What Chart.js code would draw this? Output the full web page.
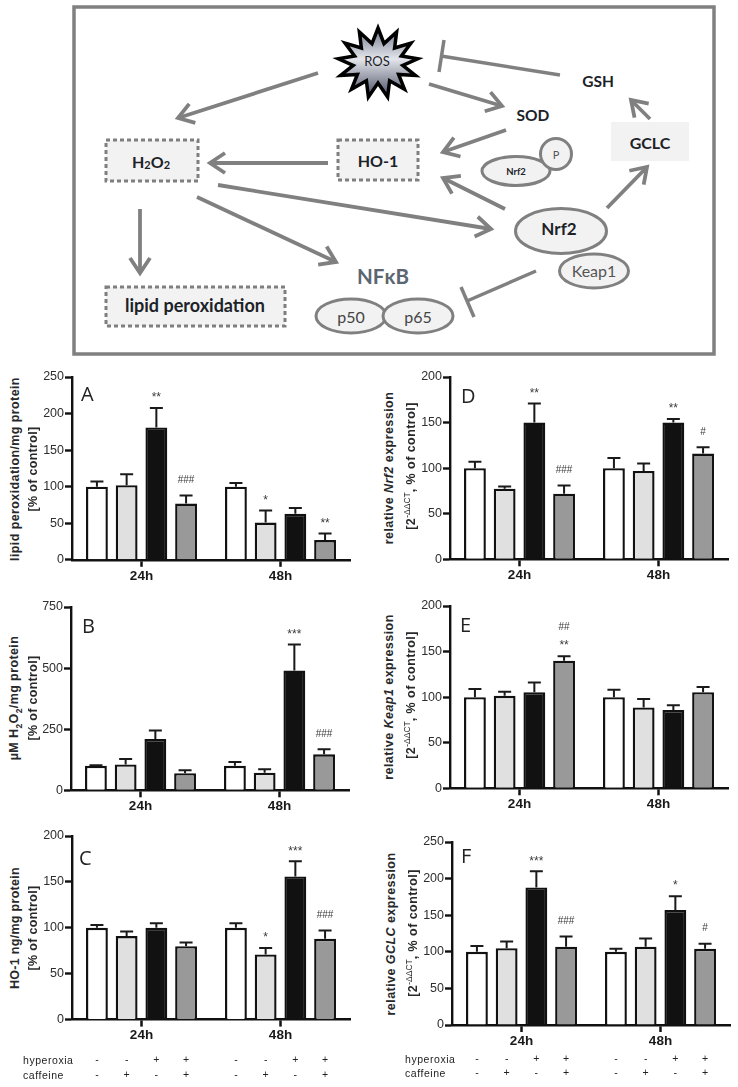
<!DOCTYPE html>
<html>
<head>
<meta charset="utf-8">
<style>
  html, body { margin: 0; padding: 0; background: #fff; }
  #page { position: relative; width: 738px; height: 1087px; overflow: hidden; font-family: "Liberation Sans", Arial, sans-serif; }
  canvas { position: absolute; }
  #scheme { position: absolute; left: 0; top: 0; }
  #scheme text { font-family: Lato, sans-serif; text-anchor: middle; dominant-baseline: central; font-weight: 700; fill: #1c2228; }
  .ytitle { position: absolute; transform: translate(-50%, -50%) rotate(-90deg); white-space: nowrap; font-weight: 700; color: #26282a; font-size: 12.5px; }
  .ytitle sup { font-size: 8.5px; font-weight: 400; line-height: 0; letter-spacing: 0; }
  .ytitle sub { font-size: 8.5px; line-height: 0; }
  .letter { position: absolute; font-family: "Open Sans", sans-serif; font-size: 20px; line-height: 20px; color: #222; }
  .treat { position: absolute; font-size: 10.5px; letter-spacing: .55px; line-height: 12px; color: #222; }
</style>
<script src="https://cdn.jsdelivr.net/npm/chart.js@4"></script>
</head>
<body>
<div id="page">
<svg id="scheme" width="738" height="360" xmlns="http://www.w3.org/2000/svg">
  <defs>
    <marker id="head" markerUnits="userSpaceOnUse" markerWidth="30" markerHeight="30" refX="15" refY="15" orient="auto" overflow="visible">
      <path d="M0 5 L15 15 L0 25" fill="none" stroke="#808080" stroke-width="3.8"/>
    </marker>
    <linearGradient id="rosFill" x1="0" y1="0" x2="0" y2="1">
      <stop offset="0" stop-color="#70778a"/>
      <stop offset=".45" stop-color="#e4e6ec"/>
      <stop offset="1" stop-color="#4a4f63"/>
    </linearGradient>
  </defs>
  <rect x="74" y="7" width="640" height="347" fill="#fff" stroke="#808080" stroke-width="3.5"/>

  <g fill="#f2f2f2" stroke="#7f7f7f" stroke-width="3" stroke-dasharray="4 3">
    <rect x="106" y="140" width="92" height="41"/>
    <rect x="338" y="140" width="80" height="40"/>
    <rect x="106" y="287" width="179" height="39"/>
  </g>
  <rect x="611" y="122" width="78" height="39" fill="#f2f2f2"/>

  <g fill="#f2f2f2" stroke="#808080" stroke-width="3">
    <ellipse cx="516" cy="171" rx="34" ry="14.5"/>
    <circle cx="556" cy="154" r="15.5"/>
    <ellipse cx="561" cy="231" rx="45.5" ry="22.5"/>
    <ellipse cx="594" cy="271" rx="34.5" ry="17"/>
    <ellipse cx="351" cy="316" rx="35" ry="17"/>
    <ellipse cx="418" cy="316" rx="35" ry="17"/>
  </g>

  <polygon id="ros" fill="url(#rosFill)" stroke="#000" stroke-width="3.5" stroke-linejoin="miter"/>

  <g stroke="#808080" stroke-width="3.8" fill="none">
    <line x1="318" y1="73" x2="178" y2="118" marker-end="url(#head)"/>
    <line x1="328" y1="163" x2="210" y2="163" marker-end="url(#head)"/>
    <line x1="218" y1="185" x2="491" y2="229" marker-end="url(#head)"/>
    <line x1="197" y1="197" x2="336" y2="262" marker-end="url(#head)"/>
    <line x1="140" y1="209" x2="140" y2="273" marker-end="url(#head)"/>
    <line x1="429" y1="84" x2="502" y2="106" marker-end="url(#head)"/>
    <line x1="506" y1="130" x2="443" y2="152" marker-end="url(#head)"/>
    <line x1="505" y1="209" x2="443" y2="178" marker-end="url(#head)"/>
    <line x1="607" y1="208" x2="647" y2="167" marker-end="url(#head)"/>
    <line x1="650" y1="119" x2="631" y2="100" marker-end="url(#head)"/>
  </g>
  <g stroke="#808080" stroke-width="3.5" fill="none">
    <line x1="560" y1="75" x2="441" y2="56"/>
    <line x1="444" y1="40" x2="439" y2="72"/>
    <line x1="536" y1="271" x2="467" y2="301"/>
    <line x1="461" y1="287" x2="474" y2="317"/>
  </g>

  <text x="377" y="61" font-size="13" style="font-weight:400">ROS</text>
  <text x="151" y="161" font-size="16">H<tspan font-size="11" dy="3">2</tspan><tspan dy="-3">O</tspan><tspan font-size="11" dy="3">2</tspan></text>
  <text x="378" y="160" font-size="16">HO-1</text>
  <text x="195" y="305" font-size="18">lipid peroxidation</text>
  <text x="383" y="276" font-size="20.5" style="fill:#5b6670">NFκB</text>
  <text x="351" y="316" font-size="16" style="font-weight:400;fill:#444">p50</text>
  <text x="418" y="316" font-size="16" style="font-weight:400;fill:#444">p65</text>
  <text x="533" y="115" font-size="15.5">SOD</text>
  <text x="598" y="81" font-size="15.5">GSH</text>
  <text x="650" y="142" font-size="16">GCLC</text>
  <text x="516" y="171" font-size="9.5">Nrf2</text>
  <text x="556" y="154" font-size="11" style="font-weight:400;fill:#555">P</text>
  <text x="559" y="228" font-size="17">Nrf2</text>
  <text x="594" y="270" font-size="16" style="font-weight:400;fill:#555">Keap1</text>
</svg>
</div>

<script>
const categories = ['24h', '48h'];
const groups = ['control', 'caffeine', 'hyperoxia', 'hyperoxia + caffeine'];
const hyperoxiaSigns = ['-', '-', '+', '+'];
const caffeineSigns = ['-', '+', '-', '+'];
const fills = ['#ffffff', '#e0e0e0', '#111111', '#999999'];

// one row per group, [24h, 48h]
const aMeans = [[100, 100], [102, 51], [181, 63], [77, 27]];
const aTops = [[107, 105], [117, 67.5], [207.5, 71], [88, 36]];
const aMarks = [['', ''], ['', '*'], ['**', ''], ['###', '**']];

const bMeans = [[100, 100], [106, 72], [210, 490], [70, 147]];
const bTops = [[103, 116], [128, 86], [245, 597], [82, 168]];
const bMarks = [['', ''], ['', ''], ['', '***'], ['', '###']];

const cMeans = [[100, 100], [91, 71], [100, 156], [80, 88]];
const cTops = [[103, 105], [96, 78], [105, 172.5], [84, 97]];
const cMarks = [['', ''], ['', '*'], ['', '***'], ['', '###']];

const dMeans = [[100, 100], [77.5, 97], [150, 150], [72, 116]];
const dTops = [[107, 111], [80, 105], [171, 154], [81, 123]];
const dMarks = [['', ''], ['', ''], ['**', '**'], ['###', '#']];

const eMeans = [[100, 100], [101.5, 88.7], [105.5, 85.8], [140, 105.5]];
const eTops = [[109, 108], [106, 98], [116, 91], [145, 111]];
const eMarks = [['', ''], ['', ''], ['', ''], ['##|**', '']];

const fMeans = [[100, 100], [105, 107], [188, 157], [107, 104]];
const fTops = [[108, 104], [114, 118], [210, 176], [121, 111]];
const fMarks = [['', ''], ['', ''], ['***', '*'], ['###', '#']];

const panels = [
  { name: 'A', means: aMeans, tops: aTops, marks: aMarks, max: 250, step: 50, left: 72, right: 350, top: 376.7, base: 559.5,
    letter: [81, 384], titles: [['lipid peroxidation/mg protein', 15, 469, .4], ['[% of control]', 33, 469, .3]] },
  { name: 'B', means: bMeans, tops: bTops, marks: bMarks, max: 750, step: 250, left: 71, right: 349, top: 606.7, base: 790,
    letter: [82, 616], titles: [['µM H<sub>2</sub>O<sub>2</sub>/mg protein', 14, 698, .4], ['[% of control]', 33, 698, .3]] },
  { name: 'C', means: cMeans, tops: cTops, marks: cMarks, max: 200, step: 50, left: 72, right: 350, top: 835.7, base: 1019.3,
    letter: [79, 848], titles: [['HO-1 ng/mg protein', 15, 928, .3], ['[% of control]', 33, 928, .3]],
    signRows: [40.7, 55.7], treat: [23, 1054, 1069] },
  { name: 'D', means: dMeans, tops: dTops, marks: dMarks, max: 200, step: 50, left: 450, right: 728, top: 376.7, base: 559,
    letter: [461, 386], titles: [['relative <i>Nrf2</i> expression', 389, 468, .45], ['[2<sup>-ΔΔCT</sup>, % of control]', 411, 466, .45]] },
  { name: 'E', means: eMeans, tops: eTops, marks: eMarks, max: 200, step: 50, left: 450, right: 728, top: 605.7, base: 788,
    letter: [460, 615], titles: [['relative <i>Keap1</i> expression', 389, 697, .45], ['[2<sup>-ΔΔCT</sup>, % of control]', 411, 695, .45]] },
  { name: 'F', means: fMeans, tops: fTops, marks: fMarks, max: 250, step: 50, left: 452, right: 730, top: 842, base: 1025,
    letter: [461, 846], titles: [['relative <i>GCLC</i> expression', 391, 934, .45], ['[2<sup>-ΔΔCT</sup>, % of control]', 413, 933, .45]],
    signRows: [33.7, 48], treat: [405, 1053, 1067] }
];

// ROS burst outline, just a decoration of the scheme
const burst = [];
for (let i = 0; i < 26; i++) {
  const a = i / 26 * Math.PI * 2 - Math.PI / 2;
  const big = i % 2 === 0;
  burst.push((378 + Math.cos(a) * (big ? 40 : 25)).toFixed(1) + ',' + (63 + Math.sin(a) * (big ? 35 : 20)).toFixed(1));
}
document.getElementById('ros').setAttribute('points', burst.join(' '));

const INK = '#111111';
const YAXIS_W = 42, XAXIS_H = 32, PAD_TOP = 12, PAD_RIGHT = 6;

const errorBars = {
  id: 'errorBars',
  afterDatasetsDraw(chart) {
    const ctx = chart.ctx, y = chart.scales.y;
    const opt = chart.options.plugins.errorBars;
    ctx.save();
    chart.data.datasets.forEach((ds, i) => {
      chart.getDatasetMeta(i).data.forEach((bar, j) => {
        const top = y.getPixelForValue(ds.errTop[j]);
        ctx.strokeStyle = '#1a1a1a';
        ctx.lineWidth = 2;
        ctx.beginPath();
        ctx.moveTo(bar.x, bar.y);
        ctx.lineTo(bar.x, top);
        ctx.moveTo(bar.x - 6.5, top);
        ctx.lineTo(bar.x + 6.5, top);
        ctx.stroke();

        // significance marks sit just above the whisker
        const lines = ds.marks[j] ? ds.marks[j].split('|').reverse() : [];
        ctx.fillStyle = '#3a3a3a';
        ctx.textAlign = 'center';
        ctx.textBaseline = 'middle';
        lines.forEach((txt, k) => {
          const star = txt[0] === '*';
          ctx.font = star ? '12px "Liberation Sans"' : '10px "Liberation Sans"';
          ctx.fillText(txt, bar.x, top - (star ? 10 : 15) - k * 14);
        });

        // treatment table under the lower panels
        if (opt.signRows) {
          ctx.fillStyle = '#222';
          ctx.font = '10.5px "Liberation Sans"';
          const base = y.getPixelForValue(0);
          ctx.fillText(hyperoxiaSigns[i], bar.x, base + opt.signRows[0]);
          ctx.fillText(caffeineSigns[i], bar.x, base + opt.signRows[1]);
        }
      });
    });
    ctx.restore();
  }
};

const page = document.getElementById('page');

panels.forEach(p => {
  const canvas = document.createElement('canvas');
  const extra = p.signRows ? 1087 - p.base - XAXIS_H : 0;
  const wrap = document.createElement('div');
  wrap.style.cssText = 'position:absolute;left:' + (p.left - YAXIS_W) + 'px;top:' + (p.top - PAD_TOP) + 'px;width:' +
    (p.right - p.left + YAXIS_W + PAD_RIGHT) + 'px;height:' + (p.base - p.top + PAD_TOP + XAXIS_H + extra) + 'px';
  wrap.appendChild(canvas);
  page.appendChild(wrap);

  new Chart(canvas, {
    type: 'bar',
    data: {
      labels: categories,
      datasets: groups.map((g, i) => ({
        label: g,
        data: p.means[i],
        errTop: p.tops[i],
        marks: p.marks[i],
        backgroundColor: fills[i],
        borderColor: INK,
        borderWidth: 2.4,
        borderSkipped: 'bottom',
        categoryPercentage: .855,
        barPercentage: .735
      }))
    },
    plugins: [errorBars],
    options: {
      responsive: true,
      maintainAspectRatio: false,
      animation: false,
      layout: { autoPadding: false, padding: { top: PAD_TOP, right: PAD_RIGHT, bottom: extra, left: 0 } },
      plugins: {
        legend: { display: false },
        tooltip: { enabled: false },
        errorBars: { signRows: p.signRows }
      },
      scales: {
        x: {
          afterFit(s) { s.height = XAXIS_H; },
          grid: { drawOnChartArea: false, offset: false, tickLength: 7, tickWidth: 2.5, tickColor: INK },
          border: { color: INK, width: 2.4 },
          ticks: { color: '#1a1a1a', font: { family: 'Liberation Sans', size: 13.5, weight: 'bold' }, padding: 1, maxRotation: 0 }
        },
        y: {
          min: 0,
          max: p.max,
          afterFit(s) { s.width = YAXIS_W; },
          grid: { drawOnChartArea: false, tickLength: 7, tickWidth: 2.4, tickColor: INK },
          border: { color: INK, width: 2.4 },
          ticks: { stepSize: p.step, color: '#2e2e2e', font: { family: 'Liberation Sans', size: 12.5 }, padding: 1 }
        }
      }
    }
  });

  const letter = document.createElement('div');
  letter.className = 'letter';
  letter.textContent = p.name;
  letter.style.left = p.letter[0] + 'px';
  letter.style.top = p.letter[1] + 'px';
  page.appendChild(letter);

  p.titles.forEach(t => {
    const d = document.createElement('div');
    d.className = 'ytitle';
    d.innerHTML = t[0];
    d.style.left = t[1] + 'px';
    d.style.top = t[2] + 'px';
    d.style.letterSpacing = t[3] + 'px';
    page.appendChild(d);
  });

  if (p.treat) {
    ['hyperoxia', 'caffeine'].forEach((label, i) => {
      const d = document.createElement('div');
      d.className = 'treat';
      d.textContent = label;
      d.style.left = p.treat[0] + 'px';
      d.style.top = p.treat[i + 1] + 'px';
      page.appendChild(d);
    });
  }
});
</script>
</body>
</html>
